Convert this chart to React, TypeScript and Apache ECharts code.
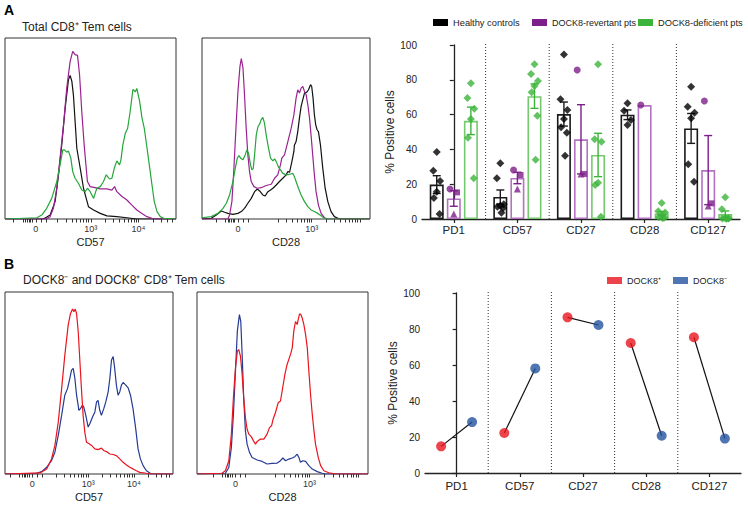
import React, { useEffect, useRef } from "react";
import * as echarts from "echarts";

// ---------- Panel A (right): % positive cells ----------
const markers = ["PD1", "CD57", "CD27", "CD28", "CD127"];
const yTickValues = [0, 20, 40, 60, 80, 100];

const healthyPD1 = [38.5, 27.8, 21.8, 15.7, 12.0, 2.9];
const healthyCD57 = [32.0, 23.4, 8.5, 7.6, 7.0, 6.3, 3.6];
const healthyCD27 = [94.6, 68.8, 62.6, 57.5, 52.7, 49.6, 36.4];
const healthyCD28 = [66.5, 62.2, 56.9, 54.0];
const healthyCD127 = [76.0, 64.5, 61.1, 57.9, 31.4, 21.4];

const deficientPD1 = [78.0, 69.5, 63.4, 57.5, 46.7, 23.4];
const deficientCD57 = [88.9, 83.3, 79.3, 76.4, 72.8, 59.4, 34.1];
const deficientCD27 = [88.9, 45.8, 44.4, 20.9, 19.5, 1.3];
const deficientCD28 = [9.2, 4.5, 3.8, 2.0, 1.0, 0.8, 0.5];
const deficientCD127 = [12.5, 5.6, 0.5, 0.4, 0.3, 0.3, 0.2];

// three DOCK8-revertant patients (circle, square, triangle)
const revertantPt1 = [17.2, 28.2, 85.6, 65.5, 67.8];
const revertantPt2 = [15.3, 25.3, 25.9, null, 9.0];
const revertantPt3 = [2.9, 17.2, 25.9, null, 7.5];

// ---------- Panel B (right): paired DOCK8+ / DOCK8- ----------
const dock8Pos = [14.8, 22.2, 86.5, 72.2, 75.4];
const dock8Neg = [28.3, 58.1, 82.2, 20.7, 19.1];

// ---------- Histograms: [fluorescence position %, normalized count %] ----------
const a1Black = [[0,0],[22.5,0],[26.4,2.2],[29.3,9.6],[31.3,24.4],[33.2,41],[35.2,61.3],[37.1,76.9],[38.1,79.3],[39.1,76],[40,68.6],[41,53.9],[42,39.1],[44,28],[45.9,17],[47.5,11.4],[48.8,6.8],[51.8,5],[55.7,3.1],[59.6,1.7],[65.4,1.3],[71.3,0.7],[77.1,0],[100,0]];
const a1Purple = [[0,0],[24,0],[26.4,1.3],[28.3,5.9],[30.3,17],[32.2,33.6],[34.2,52],[36.1,72.3],[38.1,87.1],[39.6,92.6],[41,90.8],[42.4,90.4],[43.6,79.7],[44.9,59.4],[46.3,40.8],[47.5,28],[48.2,20.7],[49.8,17.9],[52.7,17.3],[55.7,16.6],[59.6,16.6],[62.5,16],[64.1,17.9],[65.4,15.1],[68.4,12.4],[71.3,10.5],[74.2,7.7],[77.1,5],[80.1,3.1],[83,1.3],[85.9,0.4],[88.9,0],[100,0]];
const a1Green = [[0,0],[18.6,0.7],[21.5,2.2],[24.4,5.9],[27.3,11.4],[30.3,20.7],[32.2,29.9],[33.8,38.2],[34.8,38.2],[36.1,36.9],[37.1,37.6],[38.5,33.6],[39.6,26.2],[41,22.5],[43,19.6],[44.9,16],[46.9,15.1],[48.2,17],[49.8,15.1],[51.8,11.4],[53.7,17],[55.7,17.9],[57.6,20.7],[59.2,24.4],[61.1,22.1],[62.5,22.5],[63.9,28],[65.4,32.1],[67,29.9],[67.8,32.7],[68.9,40.8],[70.3,47.2],[71.7,50],[73.2,59.4],[74.8,71.6],[76.2,70.3],[77.1,72.1],[78.7,65.1],[80.1,55.9],[81.4,50.4],[83,39.5],[84.6,28.4],[85.9,19.2],[87.3,9.6],[88.9,4.1],[90.8,1.3],[92.8,0.4],[100,0]];

const a2Black = [[0,0],[5.5,0.4],[8.5,2.2],[11.5,4.4],[13.5,3.7],[15.4,3.1],[18.4,2.6],[21.4,3.1],[23.4,4.1],[25.3,5.9],[27.3,8.7],[29.3,11.4],[31.3,15.1],[32.9,16.6],[34.3,15.5],[36.2,13.3],[37.6,12.7],[39.2,15.1],[40.8,16],[42.2,17],[44.2,18.8],[46.1,20.7],[48.1,22.5],[50.1,24.4],[51.1,26.2],[52.1,25.8],[53.5,31.7],[54.7,37.3],[55,40.8],[56,42.8],[57,48.3],[58,55.7],[59,62.2],[60,65.9],[61,69.6],[62.4,70.1],[63.4,71.4],[64.6,74.2],[65.3,73.2],[66.1,66.8],[66.9,57.6],[67.7,52],[68.5,49.3],[69.3,48.3],[70.5,41],[71.9,28],[73.3,17],[74.9,9.6],[76.8,4.1],[78.8,1.3],[81.8,0],[100,0]];
const a2Purple = [[0,0],[15.4,0],[16.4,2.2],[17.8,9.6],[19,28],[20.2,50.2],[21.4,70.5],[22.6,84.3],[23.4,88.6],[24.4,83.4],[25.3,68.6],[26.3,50.2],[27.3,35.4],[28.3,26.2],[29.3,20.7],[30.9,17.9],[32.9,17],[35.2,17.3],[38.2,18.5],[41.2,19.2],[43.2,22.5],[45.1,24.4],[46.7,29.9],[47.5,33.6],[49.1,35.4],[51.1,42.8],[53.1,50.2],[54.7,57.6],[56,66.8],[57,71.4],[58,69.6],[59,72.3],[60,73.2],[61,70.5],[62,68.6],[63,63.1],[64,55.7],[64.9,46.5],[65.9,35.4],[66.9,24.4],[67.9,15.1],[69.3,7.7],[70.9,3.1],[72.9,0.7],[74.9,0],[100,0]];
const a2Green = [[0,0.7],[5.5,1.3],[9.5,3.1],[12.5,5.9],[14.5,8.7],[16.4,13.3],[18.4,20.7],[19.8,28],[21,33.6],[22,35.1],[23,33.6],[24.4,32.7],[25.7,35.4],[26.7,38.2],[27.7,36.3],[28.9,29.9],[29.7,27.1],[30.5,28],[31.3,35.4],[32.3,46.5],[33.3,51.1],[34.3,52.4],[35.2,54.8],[36.2,56.1],[37.2,53],[38.2,46.5],[39.6,39.1],[40.8,33.6],[42.2,32.1],[43.2,33.2],[44.2,31.7],[45.5,28.8],[46.7,27.1],[48.1,25.2],[50.1,24.4],[52.1,24.7],[54.1,25.2],[55,23.4],[56,20.7],[57.4,17],[59,13.3],[61,9.6],[63,6.8],[64.9,5],[66.9,4.1],[68.9,3.1],[70.9,1.8],[72.9,0.4],[74.9,0],[100,0]];

const b1Red = [[0,0],[20.8,0.6],[24.8,2.8],[27.7,8.3],[29.7,15.7],[31.7,28.5],[33.7,46.8],[35.6,65.2],[37.6,81.8],[39,88.2],[40.2,90.6],[41,89.1],[41.8,90.6],[42.6,88.2],[43.6,78],[44.6,61.5],[45.5,46.8],[46.5,32.2],[47.5,23],[48.5,17.5],[50.1,16.6],[51.5,15.7],[53.5,13.8],[55.4,13.4],[57.4,14.2],[58.8,12.9],[60.4,12.3],[62.4,11],[64.4,10.7],[66.3,10.1],[68.3,8.3],[70.3,6.4],[72.3,5],[74.3,3.7],[76.2,2.8],[78.2,1.8],[80.2,0.9],[84.2,0.4],[88,0],[100,0]];
const b1Blue = [[0,0],[18.8,0.4],[21.8,1.3],[24.8,3.7],[27.7,7.4],[29.7,12],[31.7,21.2],[33.7,32.2],[35.6,43.3],[37.2,46.9],[38.6,52.5],[39.6,57.1],[40.6,58],[41.6,52.5],[42.6,43.3],[44,35],[44.9,35.9],[46.1,37.8],[46.9,36.8],[48.1,32.2],[49.5,25.8],[50.5,27.6],[52.1,31.3],[53.5,34.1],[54.5,39.6],[55.4,40.5],[56.4,35],[57.4,32.2],[58.8,35.9],[60,39.6],[61.4,45.1],[62.4,52.5],[63.4,62.6],[64.4,64.5],[65.3,58],[66.3,48.8],[67.3,43.3],[68.3,45.1],[69.3,48.8],[70.3,50.3],[71.9,48.8],[73.3,47.3],[74.7,43.3],[76.2,35.9],[77.8,24.9],[79.2,13.8],[80.6,8.3],[82.2,4.6],[84.2,1.8],[87.1,0],[100,0]];

const b2Blue = [[0,0],[16.6,0.4],[18.6,3.6],[20.1,14.6],[21.3,32.8],[22.5,56.6],[23.6,78.5],[24.8,87.6],[25.6,83.9],[26.4,65.7],[27.3,42],[28.3,23.7],[29.3,16.4],[30.7,11.9],[32.2,9.1],[35.2,7.7],[38.1,6.9],[41,5.5],[43.9,5.8],[46.9,6],[48.8,7.3],[50.2,8.8],[51.8,7.3],[53.7,8.2],[55.7,8.8],[57.2,9.5],[58.6,10.9],[59.6,9.1],[60.5,6.4],[61.9,7.3],[63.5,6.9],[65.4,4.6],[67.4,2.7],[70.3,1.3],[73.2,0.4],[75.2,0],[100,0]];
const b2Red = [[0,0],[14.6,0.4],[16.6,1.8],[18.6,7.3],[20.1,21.9],[21.3,42],[22.5,58.4],[23.6,67.5],[24.4,68.4],[25.4,64.8],[26.4,54.7],[27.3,42],[28.3,31],[29.3,24.6],[30.3,21.9],[31.8,20.4],[33.2,17.9],[34.2,16.4],[35.2,17.9],[37.1,19.2],[39.1,19.2],[41,21.9],[42.4,25.5],[43.6,26.5],[44.5,30.1],[45.9,33.8],[47.5,39.2],[48.8,40.1],[49.8,45.6],[51.4,54.7],[52.7,60.2],[54.7,65.7],[55.7,69.3],[56.6,78.5],[57.6,83.8],[58.6,82.1],[59.2,84.9],[60,88],[60.7,87.6],[61.5,85.8],[62.5,82.1],[63.5,76.6],[64.5,69.3],[65.4,56.6],[66.4,43.8],[67.4,32.8],[68.4,23.7],[69.3,16.4],[70.9,9.1],[72.3,4.6],[74.2,1.8],[77.1,0.7],[81.1,0],[100,0]];

// axis label positions for the logicle-like scales
const a1Labels = [{ v: 18, t: "0" }, { v: 50.2, t: "10³" }, { v: 78.1, t: "10⁴" }];
const a2Labels = [{ v: 21.4, t: "0" }, { v: 65.3, t: "10³" }];
const b1Labels = [{ v: 16.2, t: "0" }, { v: 49.5, t: "10³" }, { v: 76.8, t: "10⁴" }];
const b2Labels = [{ v: 22.5, t: "0" }, { v: 65.8, t: "10³" }];

const FONT = "'Liberation Sans', Arial, Helvetica, sans-serif";
const C_BLACK = "#111111";
const C_PURPLE = "#7d1f8a";
const C_PURPLE_BAR = "#b472c2";
const C_GREEN = "#3cb43c";
const C_GREEN_BAR = "#74c96e";
const H_PURPLE = "#9b2191";
const H_GREEN = "#25a63a";
const C_RED = "#e8141e";
const C_BLUE = "#243a94";
const C_DOT_BLUE = "#2453a0";

function minorTicks(p0: number, p3: number, dec: number) {
  const out: number[] = [p0 - 13, p0 - 7.5, p0 - 6, p0 - 5, p0 - 4, p0 - 3, p0 - 2, p0 + 3, p0 + 6];
  for (let k = 2; k <= 9; k++) {
    const l = Math.log10(k);
    out.push(p3 + (l - 1) * dec, p3 + l * dec, p3 + dec + l * dec);
  }
  out.push(p3 + dec);
  return out.filter((v) => v > 0.5 && v < 99.5);
}

const mean = (a: number[]) => a.reduce((s, v) => s + v, 0) / a.length;
const sem = (a: number[]) => {
  if (a.length < 2) return null;
  const m = mean(a);
  const sd = Math.sqrt(a.reduce((s, v) => s + (v - m) ** 2, 0) / (a.length - 1));
  return sd / Math.sqrt(a.length);
};

export default function App() {
  const ref = useRef<HTMLDivElement>(null);
  useEffect(() => {
    if (!ref.current) return;
    const chart = echarts.init(ref.current, undefined, { renderer: "svg" });

    const healthy = [healthyPD1, healthyCD57, healthyCD27, healthyCD28, healthyCD127];
    const deficient = [deficientPD1, deficientCD57, deficientCD27, deficientCD28, deficientCD127];
    const revertant = markers.map((_, i) =>
      [revertantPt1[i], revertantPt2[i], revertantPt3[i]].filter((v) => v !== null) as number[]
    );

    const grids = [
      { left: 5, top: 38, width: 171, height: 181 },
      { left: 202, top: 38, width: 168, height: 181 },
      { left: 422, top: 45, width: 318, height: 174 },
      { left: 5, top: 292, width: 168, height: 182 },
      { left: 197, top: 292, width: 171, height: 182 },
      { left: 425, top: 293, width: 316, height: 180 },
    ];
    const histGrid = (g: any) => ({ ...g, show: true, borderColor: "#333", borderWidth: 1, backgroundColor: "transparent", containLabel: false });
    const plainGrid = (g: any) => ({ ...g, containLabel: false });

    const BAR_W = 14;
    const BAR_GAP = 0.22;
    const catW = grids[2].width / markers.length;
    const offU = (BAR_W * (1 + BAR_GAP)) / catW;
    const dotOff = 0.245;
    const jitter = [0, -0.06, 0.06, 0, -0.05, 0.05, 0.02];
    const separators = markers.slice(1).map((_, i) => i + 0.5);

    const histX = (gridIndex: number, labels: any[], minor: number[], name: string) => {
      const majors = labels.map((l) => l.v);
      const minors = minor.filter((m) => majors.every((v) => Math.abs(v - m) > 0.6));
      const all = [...majors, ...minors].sort((a, b) => a - b);
      return {
        type: "value", gridIndex, min: 0, max: 100, position: "bottom",
        name, nameLocation: "middle", nameGap: 17,
        nameTextStyle: { fontSize: 11, color: "#222", fontFamily: FONT },
        axisLine: { show: false }, splitLine: { show: false },
        axisTick: { show: true, length: 3.5, customValues: all, lineStyle: { color: "#333" } },
        axisLabel: {
          show: true, customValues: all, fontSize: 9, color: "#333", margin: 5, fontFamily: FONT, hideOverlap: false,
          formatter: (v: number) => { const f = labels.find((l) => Math.abs(l.v - v) < 1e-6); return f ? f.t : ""; },
        },
      };
    };
    const histY = (gridIndex: number) => ({ type: "value", gridIndex, min: 0, max: 100, show: false });

    const catAxis = (gridIndex: number, margin: number) => ({
      type: "category", gridIndex, data: markers, position: "bottom",
      axisLine: { show: true, lineStyle: { color: "#222", width: 1.3 } },
      axisTick: { show: true, alignWithLabel: true, length: 4, lineStyle: { color: "#222", width: 1.2 } },
      axisLabel: { fontSize: 11.5, color: "#222", margin, fontFamily: FONT },
      splitLine: { show: false },
    });
    const hiddenVal = (gridIndex: number) => ({ type: "value", gridIndex, min: -0.5, max: 4.5, show: false });
    const pctAxis = (gridIndex: number, nameGap: number) => ({
      type: "value", gridIndex, min: yTickValues[0], max: yTickValues[yTickValues.length - 1], interval: yTickValues[1] - yTickValues[0],
      name: "% Positive cells", nameLocation: "middle", nameGap,
      nameTextStyle: { fontSize: 12, color: "#222", fontFamily: FONT },
      axisLine: { show: true, lineStyle: { color: "#222", width: 1.3 } },
      axisTick: { show: true, length: 4, lineStyle: { color: "#222", width: 1.2 } },
      axisLabel: { fontSize: 10, color: "#222", margin: 5, fontFamily: FONT },
      splitLine: { show: false },
    });

    const xAxis = [
      histX(0, a1Labels, minorTicks(18, 50.2, 27.9), "CD57"), // 0
      histX(1, a2Labels, minorTicks(21.4, 65.3, 28.6), "CD28"), // 1
      catAxis(2, 5), // 2
      hiddenVal(2), // 3
      histX(3, b1Labels, minorTicks(16.2, 49.5, 27.3), "CD57"), // 4
      histX(4, b2Labels, minorTicks(22.5, 65.8, 28.6), "CD28"), // 5
      catAxis(5, 7), // 6
      hiddenVal(5), // 7
    ];
    const yAxis = [histY(0), histY(1), pctAxis(2, 16), histY(3), histY(4), pctAxis(5, 19)];

    const hist = (data: number[][], xi: number, yi: number, color: string) => ({
      type: "line", data, xAxisIndex: xi, yAxisIndex: yi, showSymbol: false, symbol: "none",
      lineStyle: { color, width: 1.2 }, itemStyle: { color }, silent: true, z: 3,
    });

    const sepSeries = (xi: number, yi: number, ext: number) => ({
      type: "custom", xAxisIndex: xi, yAxisIndex: yi, silent: true, z: 1,
      data: separators.map((v) => [v, 0]), encode: { x: 0, y: 1 },
      renderItem: (_p: any, api: any) => {
        const x = api.value(0);
        const a = api.coord([x, 0]);
        const b = api.coord([x, 100]);
        return { type: "line", shape: { x1: a[0], y1: a[1], x2: b[0], y2: b[1] - ext }, style: { stroke: "#333", lineWidth: 1, lineDash: [1, 2] } };
      },
    });

    const barSeries = (name: string, groups: number[][], border: string) => ({
      type: "bar", name, xAxisIndex: 2, yAxisIndex: 2, barWidth: BAR_W, barGap: `${BAR_GAP * 100}%`,
      data: groups.map((g) => +mean(g).toFixed(2)),
      itemStyle: { color: "#ffffff", borderColor: border, borderWidth: 1.6 }, z: 2, silent: true,
    });

    const errSeries = (groups: number[][], off: number, color: string) => ({
      type: "custom", xAxisIndex: 3, yAxisIndex: 2, silent: true, z: 4,
      data: groups.map((g, i) => [i + off, mean(g), sem(g)]).filter((r) => r[2] !== null),
      encode: { x: 0, y: 1 },
      renderItem: (_p: any, api: any) => {
        const x = api.value(0), m = api.value(1), s = api.value(2);
        const t = api.coord([x, m + s]);
        const b = api.coord([x, Math.max(0, m - s)]);
        const st = { stroke: color, lineWidth: 1.4 };
        return {
          type: "group",
          children: [
            { type: "line", shape: { x1: t[0], y1: t[1], x2: t[0], y2: b[1] }, style: st },
            { type: "line", shape: { x1: t[0] - 4, y1: t[1], x2: t[0] + 4, y2: t[1] }, style: st },
            { type: "line", shape: { x1: t[0] - 4, y1: b[1], x2: t[0] + 4, y2: b[1] }, style: st },
          ],
        };
      },
    });

    const pointSeries = (name: string, groups: number[][], off: number, color: string, symbol: string, size: number) => ({
      type: "scatter", name, xAxisIndex: 3, yAxisIndex: 2, symbol, symbolSize: size, silent: true, z: 5,
      data: groups.flatMap((g, i) => g.map((v, j) => [i + off + jitter[j % jitter.length] * 0.9, v])),
      itemStyle: { color },
    });
    const revSeries = (name: string, vals: (number | null)[], dx: number, symbol: string, size: number) => ({
      type: "scatter", name, xAxisIndex: 3, yAxisIndex: 2, symbol, symbolSize: size, silent: true, z: 5,
      data: vals.map((v, i) => (v === null ? null : [i + dx, v])).filter((d) => d !== null),
      itemStyle: { color: C_PURPLE },
    });

    const series: any[] = [
      // Histograms A
      hist(a1Black, 0, 0, C_BLACK), hist(a1Purple, 0, 0, H_PURPLE), hist(a1Green, 0, 0, H_GREEN),
      hist(a2Black, 1, 1, C_BLACK), hist(a2Purple, 1, 1, H_PURPLE), hist(a2Green, 1, 1, H_GREEN),
      // Histograms B
      hist(b1Blue, 4, 3, C_BLUE), hist(b1Red, 4, 3, C_RED),
      hist(b2Blue, 5, 4, C_BLUE), hist(b2Red, 5, 4, C_RED),
      // bar chart
      sepSeries(3, 2, 3),
      barSeries("Healthy controls", healthy, "#1a1a1a"),
      barSeries("DOCK8-revertant pts", revertant, C_PURPLE_BAR),
      barSeries("DOCK8-deficient pts", deficient, C_GREEN_BAR),
      errSeries(healthy, -offU, "#1a1a1a"),
      errSeries(revertant, 0, C_PURPLE),
      errSeries(deficient, offU, C_GREEN),
      pointSeries("hc-pts", healthy, -offU, "#000000", "diamond", 8),
      pointSeries("def-pts", deficient, offU, C_GREEN, "diamond", 8),
      revSeries("rev-1", revertantPt1, -0.06, "circle", 7),
      revSeries("rev-2", revertantPt2, 0.05, "rect", 6),
      revSeries("rev-3", revertantPt3, 0, "triangle", 7),
      // paired chart
      sepSeries(7, 5, 3),
      ...markers.map((_, i) => ({
        type: "line", xAxisIndex: 7, yAxisIndex: 5, symbol: "none", silent: true, z: 3,
        data: [[i - dotOff, dock8Pos[i]], [i + dotOff, dock8Neg[i]]],
        lineStyle: { color: "#111", width: 1.2 },
      })),
      {
        type: "scatter", name: "DOCK8⁺", xAxisIndex: 7, yAxisIndex: 5, symbolSize: 10, silent: true, z: 5,
        data: dock8Pos.map((v, i) => [i - dotOff, v]), itemStyle: { color: C_RED },
      },
      {
        type: "scatter", name: "DOCK8⁻", xAxisIndex: 7, yAxisIndex: 5, symbolSize: 10, silent: true, z: 5,
        data: dock8Neg.map((v, i) => [i + dotOff, v]), itemStyle: { color: C_DOT_BLUE },
      },
    ];

    const legendBase = { selectedMode: false, icon: "rect", itemWidth: 15, itemHeight: 7, padding: 0, orient: "horizontal" };
    const legend = [
      { ...legendBase, left: 433, top: 18, textStyle: { fontSize: 9.3, color: "#222", fontFamily: FONT },
        data: [{ name: "Healthy controls", itemStyle: { color: "#000", borderWidth: 0 } }] },
      { ...legendBase, left: 532, top: 18, textStyle: { fontSize: 9, color: "#222", fontFamily: FONT },
        data: [{ name: "DOCK8-revertant pts", itemStyle: { color: C_PURPLE, borderWidth: 0 } }] },
      { ...legendBase, left: 638, top: 18, textStyle: { fontSize: 9.3, color: "#222", fontFamily: FONT },
        data: [{ name: "DOCK8-deficient pts", itemStyle: { color: C_GREEN, borderWidth: 0 } }] },
      { ...legendBase, left: 607, top: 276, textStyle: { fontSize: 9, color: "#222", fontFamily: FONT },
        data: [{ name: "DOCK8⁺", itemStyle: { color: C_RED, borderWidth: 0 } }] },
      { ...legendBase, left: 673, top: 276, textStyle: { fontSize: 9, color: "#222", fontFamily: FONT },
        data: [{ name: "DOCK8⁻", itemStyle: { color: C_DOT_BLUE, borderWidth: 0 } }] },
    ];

    const title = [
      { text: "A", left: 4, top: 3, padding: 0, textStyle: { fontSize: 14, fontWeight: "bold", color: "#000", fontFamily: FONT } },
      { text: "Total CD8⁺ Tem cells", left: 22, top: 21, padding: 0, textStyle: { fontSize: 12, fontWeight: "normal", color: "#222", fontFamily: FONT } },
      { text: "B", left: 4, top: 257, padding: 0, textStyle: { fontSize: 14, fontWeight: "bold", color: "#000", fontFamily: FONT } },
      { text: "DOCK8⁻ and DOCK8⁺ CD8⁺ Tem cells", left: 23, top: 274, padding: 0, textStyle: { fontSize: 12, fontWeight: "normal", color: "#222", fontFamily: FONT } },
    ];

    chart.setOption({
      animation: false,
      backgroundColor: "#ffffff",
      textStyle: { fontFamily: FONT },
      title,
      legend,
      grid: [histGrid(grids[0]), histGrid(grids[1]), plainGrid(grids[2]), histGrid(grids[3]), histGrid(grids[4]), plainGrid(grids[5])],
      xAxis,
      yAxis,
      series,
    });
    return () => chart.dispose();
  }, []);
  return <div ref={ref} style={{ position: "absolute", left: 0, top: 0, width: 748, height: 505, background: "#fff" }} />;
}
